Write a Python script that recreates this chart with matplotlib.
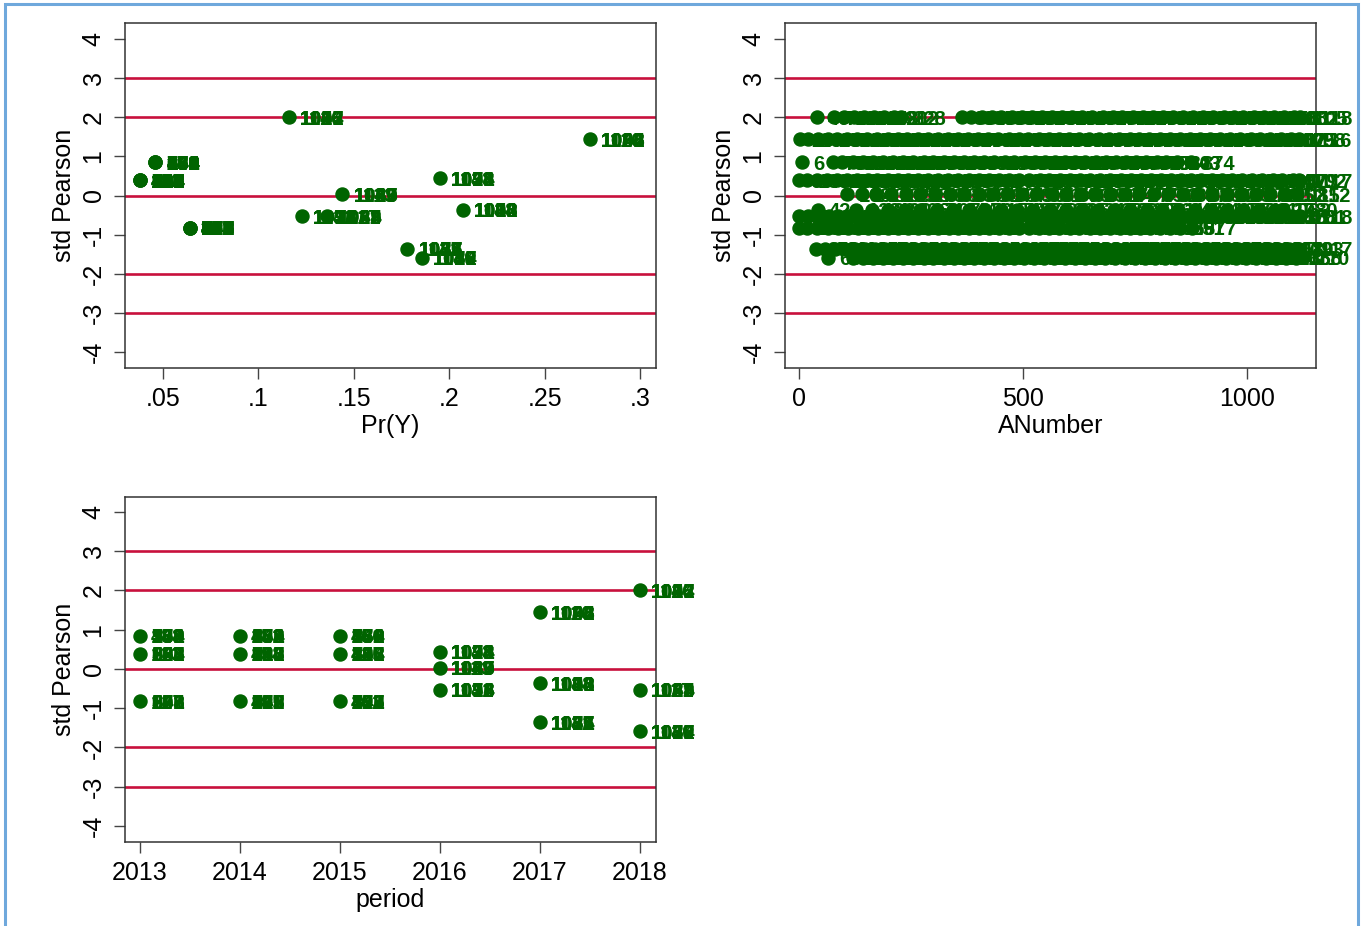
import matplotlib
matplotlib.use('Agg')
import matplotlib.pyplot as plt
from matplotlib.patches import Rectangle

plt.rcParams['font.family'] = ['Liberation Sans', 'DejaVu Sans']

GREEN = '#006400'
RED = '#C8103C'
SPINE = '#333333'

# ---------------- data ----------------
ref_lines = [3, 2, 0, -2, -3]
y_ticks = [-4, -3, -2, -1, 0, 1, 2, 3, 4]

prob_ticks = [0.05, 0.1, 0.15, 0.2, 0.25, 0.3]
prob_ticklabels = ['.05', '.1', '.15', '.2', '.25', '.3']
anum_ticks = [0, 500, 1000]
period_ticks = [2013, 2014, 2015, 2016, 2017, 2018]

# groups of observations sharing period / Pr(Y) / std Pearson
grp_period = [2013, 2013, 2013, 2014, 2014, 2014, 2015, 2015, 2015,
              2016, 2016, 2016, 2017, 2017, 2017, 2018, 2018, 2018]
grp_prob = [0.046, 0.038, 0.064, 0.046, 0.038, 0.064, 0.046, 0.038, 0.064,
            0.195, 0.144, 0.1228, 0.2736, 0.207, 0.178, 0.116, 0.136, 0.1856]
grp_std = [0.845, 0.385, -0.82, 0.845, 0.385, -0.82, 0.845, 0.385, -0.82,
           0.44, 0.03, -0.535, 1.44, -0.36, -1.36, 2.0, -0.535, -1.59]
grp_labels = [
    ['206', '148', '352', '579', '931', '764', '483'],
    ['113', '245', '398', '507', '682', '820', '954'],
    ['127', '263', '391', '548', '670', '802', '945'],
    ['306', '248', '452', '679', '831', '564', '183'],
    ['213', '345', '498', '607', '782', '920', '154'],
    ['227', '363', '491', '648', '770', '902', '145'],
    ['406', '348', '552', '779', '131', '664', '283'],
    ['313', '445', '598', '707', '882', '120', '254'],
    ['327', '463', '591', '748', '870', '102', '245'],
    ['1024', '1138', '1052', '1096', '1071', '1143'],
    ['1029', '1113', '1065', '1087', '1040', '1149'],
    ['1016', '1132', '1058', '1094', '1073', '1141'],
    ['1036', '1124', '1068', '1092', '1045', '1110'],
    ['1018', '1134', '1052', '1063', '1090', '1148'],
    ['1021', '1135', '1056', '1084', '1077', '1142'],
    ['1014', '1126', '1057', '1093', '1062', '1140'],
    ['1023', '1131', '1064', '1085', '1049', '1117'],
    ['1027', '1139', '1050', '1082', '1074', '1146'],
]

# ANumber values by std Pearson level
row_std = [2.0, 1.44, 0.845, 0.385, 0.03, -0.36, -0.535, -0.82, -1.36, -1.59]
row_2p00 = [40, 78, 100, 122, 145, 168, 190, 212, 228, 364, 385, 408, 430, 452,
            475, 498, 520, 542, 565, 588, 610, 632, 655, 678, 700, 722, 745, 768,
            790, 812, 835, 858, 880, 902, 925, 948, 970, 992, 1015, 1038, 1060,
            1082, 1105, 1118]
row_1p44 = [2, 20, 42, 65, 85, 108, 130, 152, 175, 198, 220, 242, 265, 288, 310,
            332, 355, 378, 400, 422, 445, 468, 490, 512, 535, 558, 580, 602, 625,
            648, 670, 692, 715, 738, 760, 782, 805, 828, 850, 872, 895, 918, 940,
            962, 985, 1008, 1030, 1052, 1075, 1098, 1116]
row_0p84 = [6, 75, 97, 120, 142, 165, 188, 210, 233, 255, 278, 300, 323, 346, 368,
            391, 413, 436, 459, 481, 504, 526, 549, 572, 594, 617, 639, 662, 685,
            707, 730, 752, 775, 798, 820, 843, 874]
row_0p38 = [0, 18, 40, 62, 85, 107, 130, 153, 175, 198, 220, 243, 266, 288, 311,
            333, 356, 379, 401, 424, 446, 469, 492, 514, 537, 559, 582, 605, 627,
            650, 672, 695, 718, 740, 763, 785, 808, 831, 853, 876, 898, 921, 944,
            966, 989, 1011, 1034, 1057, 1079, 1102, 1117]
row_0p03 = [108, 140, 173, 205, 238, 270, 303, 336, 368, 401, 433, 466, 498, 531,
            564, 596, 629, 661, 694, 727, 759, 792, 824, 857, 889, 922, 955, 987,
            1020, 1052, 1085, 1112]
row_m0p36 = [42, 128, 163, 199, 236, 271, 307, 344, 379, 415, 452, 487, 523, 560,
             595, 631, 668, 703, 739, 776, 811, 847, 884, 919, 955, 992, 1027,
             1063, 1080]
row_m0p53 = [0, 21, 43, 66, 88, 111, 133, 156, 178, 201, 223, 246, 268, 291, 313,
             336, 358, 381, 403, 426, 448, 471, 493, 516, 538, 561, 583, 606, 628,
             651, 673, 696, 718, 741, 763, 786, 808, 831, 853, 876, 898, 921, 943,
             966, 988, 1011, 1033, 1056, 1078, 1101, 1118]
row_m0p82 = [0, 19, 41, 64, 86, 109, 131, 154, 176, 199, 221, 244, 266, 289, 311,
             334, 356, 379, 401, 424, 446, 469, 491, 514, 536, 559, 581, 604, 626,
             649, 671, 694, 716, 739, 761, 784, 806, 829, 851, 877]
row_m1p36 = [38, 58, 80, 103, 125, 148, 170, 193, 215, 238, 260, 283, 305, 328, 350,
             373, 395, 418, 440, 463, 485, 508, 530, 553, 575, 598, 620, 643, 665,
             688, 710, 733, 755, 778, 800, 823, 845, 868, 890, 913, 935, 958, 980,
             1003, 1025, 1048, 1070, 1093, 1117]
row_m1p58 = [65, 120, 143, 165, 188, 210, 233, 255, 278, 300, 323, 345, 368, 390,
             413, 435, 458, 480, 503, 525, 548, 570, 593, 615, 638, 660, 683, 705,
             728, 750, 773, 795, 818, 840, 863, 885, 908, 930, 953, 975, 998, 1020,
             1043, 1065, 1088, 1110]
rows_anum = [row_2p00, row_1p44, row_0p84, row_0p38, row_0p03,
             row_m0p36, row_m0p53, row_m0p82, row_m1p36, row_m1p58]

# ---------------- figure ----------------
W, H = 1366, 926
fig = plt.figure(figsize=(W / 100, H / 100), dpi=100)
fig.patch.set_facecolor('white')


def ax_rect(l, t, r, b):
    return [l / W, 1 - b / H, (r - l) / W, (b - t) / H]


ax1 = fig.add_axes(ax_rect(125, 23, 656, 368))
ax2 = fig.add_axes(ax_rect(785, 23, 1316, 368))
ax3 = fig.add_axes(ax_rect(125, 497, 656, 842))

MS = 9.4
FS_TICK = 18
FS_LAB = 18
FS_MLAB = 14.5


def style(ax, xlim, ylim, xticks, xticklabels, xlabel):
    ax.set_xlim(*xlim)
    ax.set_ylim(*ylim)
    for y in ref_lines:
        ax.axhline(y, color=RED, lw=1.9, zorder=1)
    ax.set_yticks(y_ticks)
    ax.set_yticklabels([str(v) for v in y_ticks])
    ax.set_xticks(xticks)
    ax.set_xticklabels(xticklabels)
    ax.tick_params(axis='both', direction='out', length=8, width=1.0,
                   color='#444444', labelsize=FS_TICK, pad=6)
    ax.tick_params(axis='y', labelrotation=90)
    for lab in ax.get_yticklabels():
        lab.set_va('center')
    for s in ax.spines.values():
        s.set_color(SPINE)
        s.set_linewidth(1.1)
    ax.set_ylabel('std Pearson', fontsize=FS_LAB, labelpad=4)
    ax.set_xlabel(xlabel, fontsize=FS_LAB, labelpad=2)


def mlabel(ax, x, y, txt):
    ax.annotate(txt, (x, y), xytext=(8, 0), textcoords='offset points',
                ha='left', va='center_baseline', color=GREEN,
                fontsize=FS_MLAB, fontweight='bold', zorder=4,
                annotation_clip=False)


# panel 1: Pr(Y)
style(ax1, (0.0301, 0.3084), (-4.41, 4.41), prob_ticks, prob_ticklabels, 'Pr(Y)')
ax1.plot(grp_prob, grp_std, 'o', color=GREEN, ms=MS, mec=GREEN, zorder=3)
for x, y, labs in zip(grp_prob, grp_std, grp_labels):
    for t in labs:
        mlabel(ax1, x, y, t)

# panel 2: ANumber
style(ax2, (-31.2, 1154), (-4.41, 4.41), anum_ticks,
      [str(v) for v in anum_ticks], 'ANumber')
for yv, xs in zip(row_std, rows_anum):
    ax2.plot(xs, [yv] * len(xs), 'o', color=GREEN, ms=MS, mec=GREEN, zorder=3)
for yv, xs in zip(row_std, rows_anum):
    for x in xs:
        mlabel(ax2, x, yv, str(x))

# panel 3: period
style(ax3, (2012.85, 2018.16), (-4.41, 4.38), period_ticks,
      [str(v) for v in period_ticks], 'period')
ax3.plot(grp_period, grp_std, 'o', color=GREEN, ms=MS, mec=GREEN, zorder=3)
for x, y, labs in zip(grp_period, grp_std, grp_labels):
    for t in labs:
        mlabel(ax3, x, y, t)

# outer light-blue frame
fig.patches.append(Rectangle((4.5 / W, -0.05), (1357.5 - 4.5) / W, 1.05 - 4.5 / H,
                             transform=fig.transFigure, fill=False,
                             edgecolor='#6FA8DC', lw=2.2, zorder=10))

fig.savefig('out.png', dpi=100, facecolor='white')
